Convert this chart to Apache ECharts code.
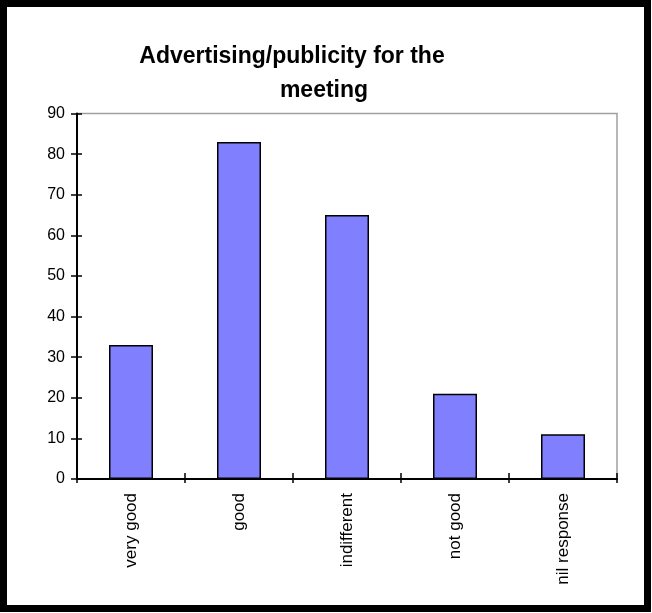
<!DOCTYPE html>
<html>
<head>
<meta charset="utf-8">
<style>html,body{margin:0;padding:0;background:#fff;}#c{width:652px;height:613px;}</style>
<script src="https://cdn.jsdelivr.net/npm/echarts@6/dist/echarts.min.js"></script>
</head>
<body>
<div id="c"></div>
<script>
const categories = ['very good', 'good', 'indifferent', 'not good', 'nil response'];
const values = [33, 83, 65, 21, 11];
const yTicks = { min: 0, max: 90, interval: 10 };
const titleLines = ['Advertising/publicity for the', 'meeting'];

const chart = echarts.init(document.getElementById('c'), null, { renderer: 'canvas' });
const font = 'Liberation Sans, Arial, sans-serif';
const gridPos = { left: 77, right: 35, top: 113.5, bottom: 134 };
chart.setOption({
  animation: false,
  backgroundColor: '#fff',
  title: [
    { text: titleLines[0], left: 287, top: 40, textAlign: 'center',
      textStyle: { fontFamily: font, fontWeight: 'bold', fontSize: 23, color: '#000' } },
    { text: titleLines[1], left: 319, top: 74, textAlign: 'center',
      textStyle: { fontFamily: font, fontWeight: 'bold', fontSize: 23, color: '#000' } }
  ],
  graphic: [{
    type: 'rect', z: 100, silent: true,
    shape: { x: 3.5, y: 3.5, width: 644, height: 605 },
    style: { fill: 'none', stroke: '#000', lineWidth: 7 }
  }],
  grid: Object.assign({ show: true, borderColor: '#a0a0a0', borderWidth: 1.5, backgroundColor: '#fff' }, gridPos),
  xAxis: [{
    type: 'category', data: categories, boundaryGap: true,
    axisLine: { show: true, lineStyle: { color: '#000', width: 2 } },
    axisTick: { show: true, alignWithLabel: false, length: 4, lineStyle: { color: '#000', width: 1.5 } },
    axisLabel: { rotate: 90, margin: 14, fontFamily: font, fontSize: 17, color: '#000' },
    splitLine: { show: false }
  }, {
    type: 'category', data: categories, boundaryGap: true, position: 'bottom',
    axisLine: { show: false },
    axisTick: { show: true, inside: true, alignWithLabel: false, length: 6, lineStyle: { color: '#000', width: 1.5 } },
    axisLabel: { show: false }, splitLine: { show: false }
  }],
  yAxis: [{
    type: 'value', min: yTicks.min, max: yTicks.max, interval: yTicks.interval,
    axisLine: { show: true, lineStyle: { color: '#000', width: 2 } },
    axisTick: { show: true, length: 6, lineStyle: { color: '#000', width: 1.5 } },
    axisLabel: { margin: 12, fontFamily: font, fontSize: 16, color: '#000' },
    splitLine: { show: false }
  }, {
    type: 'value', min: yTicks.min, max: yTicks.max, interval: yTicks.interval, position: 'left',
    axisLine: { show: false },
    axisTick: { show: true, inside: true, length: 5, lineStyle: { color: '#000', width: 1.5 } },
    axisLabel: { show: false }, splitLine: { show: false }
  }],
  series: [{
    type: 'bar', data: values, barWidth: 44,
    itemStyle: { color: '#8080FF', borderColor: '#000', borderWidth: 1.5 }
  }]
});
</script>
</body>
</html>
